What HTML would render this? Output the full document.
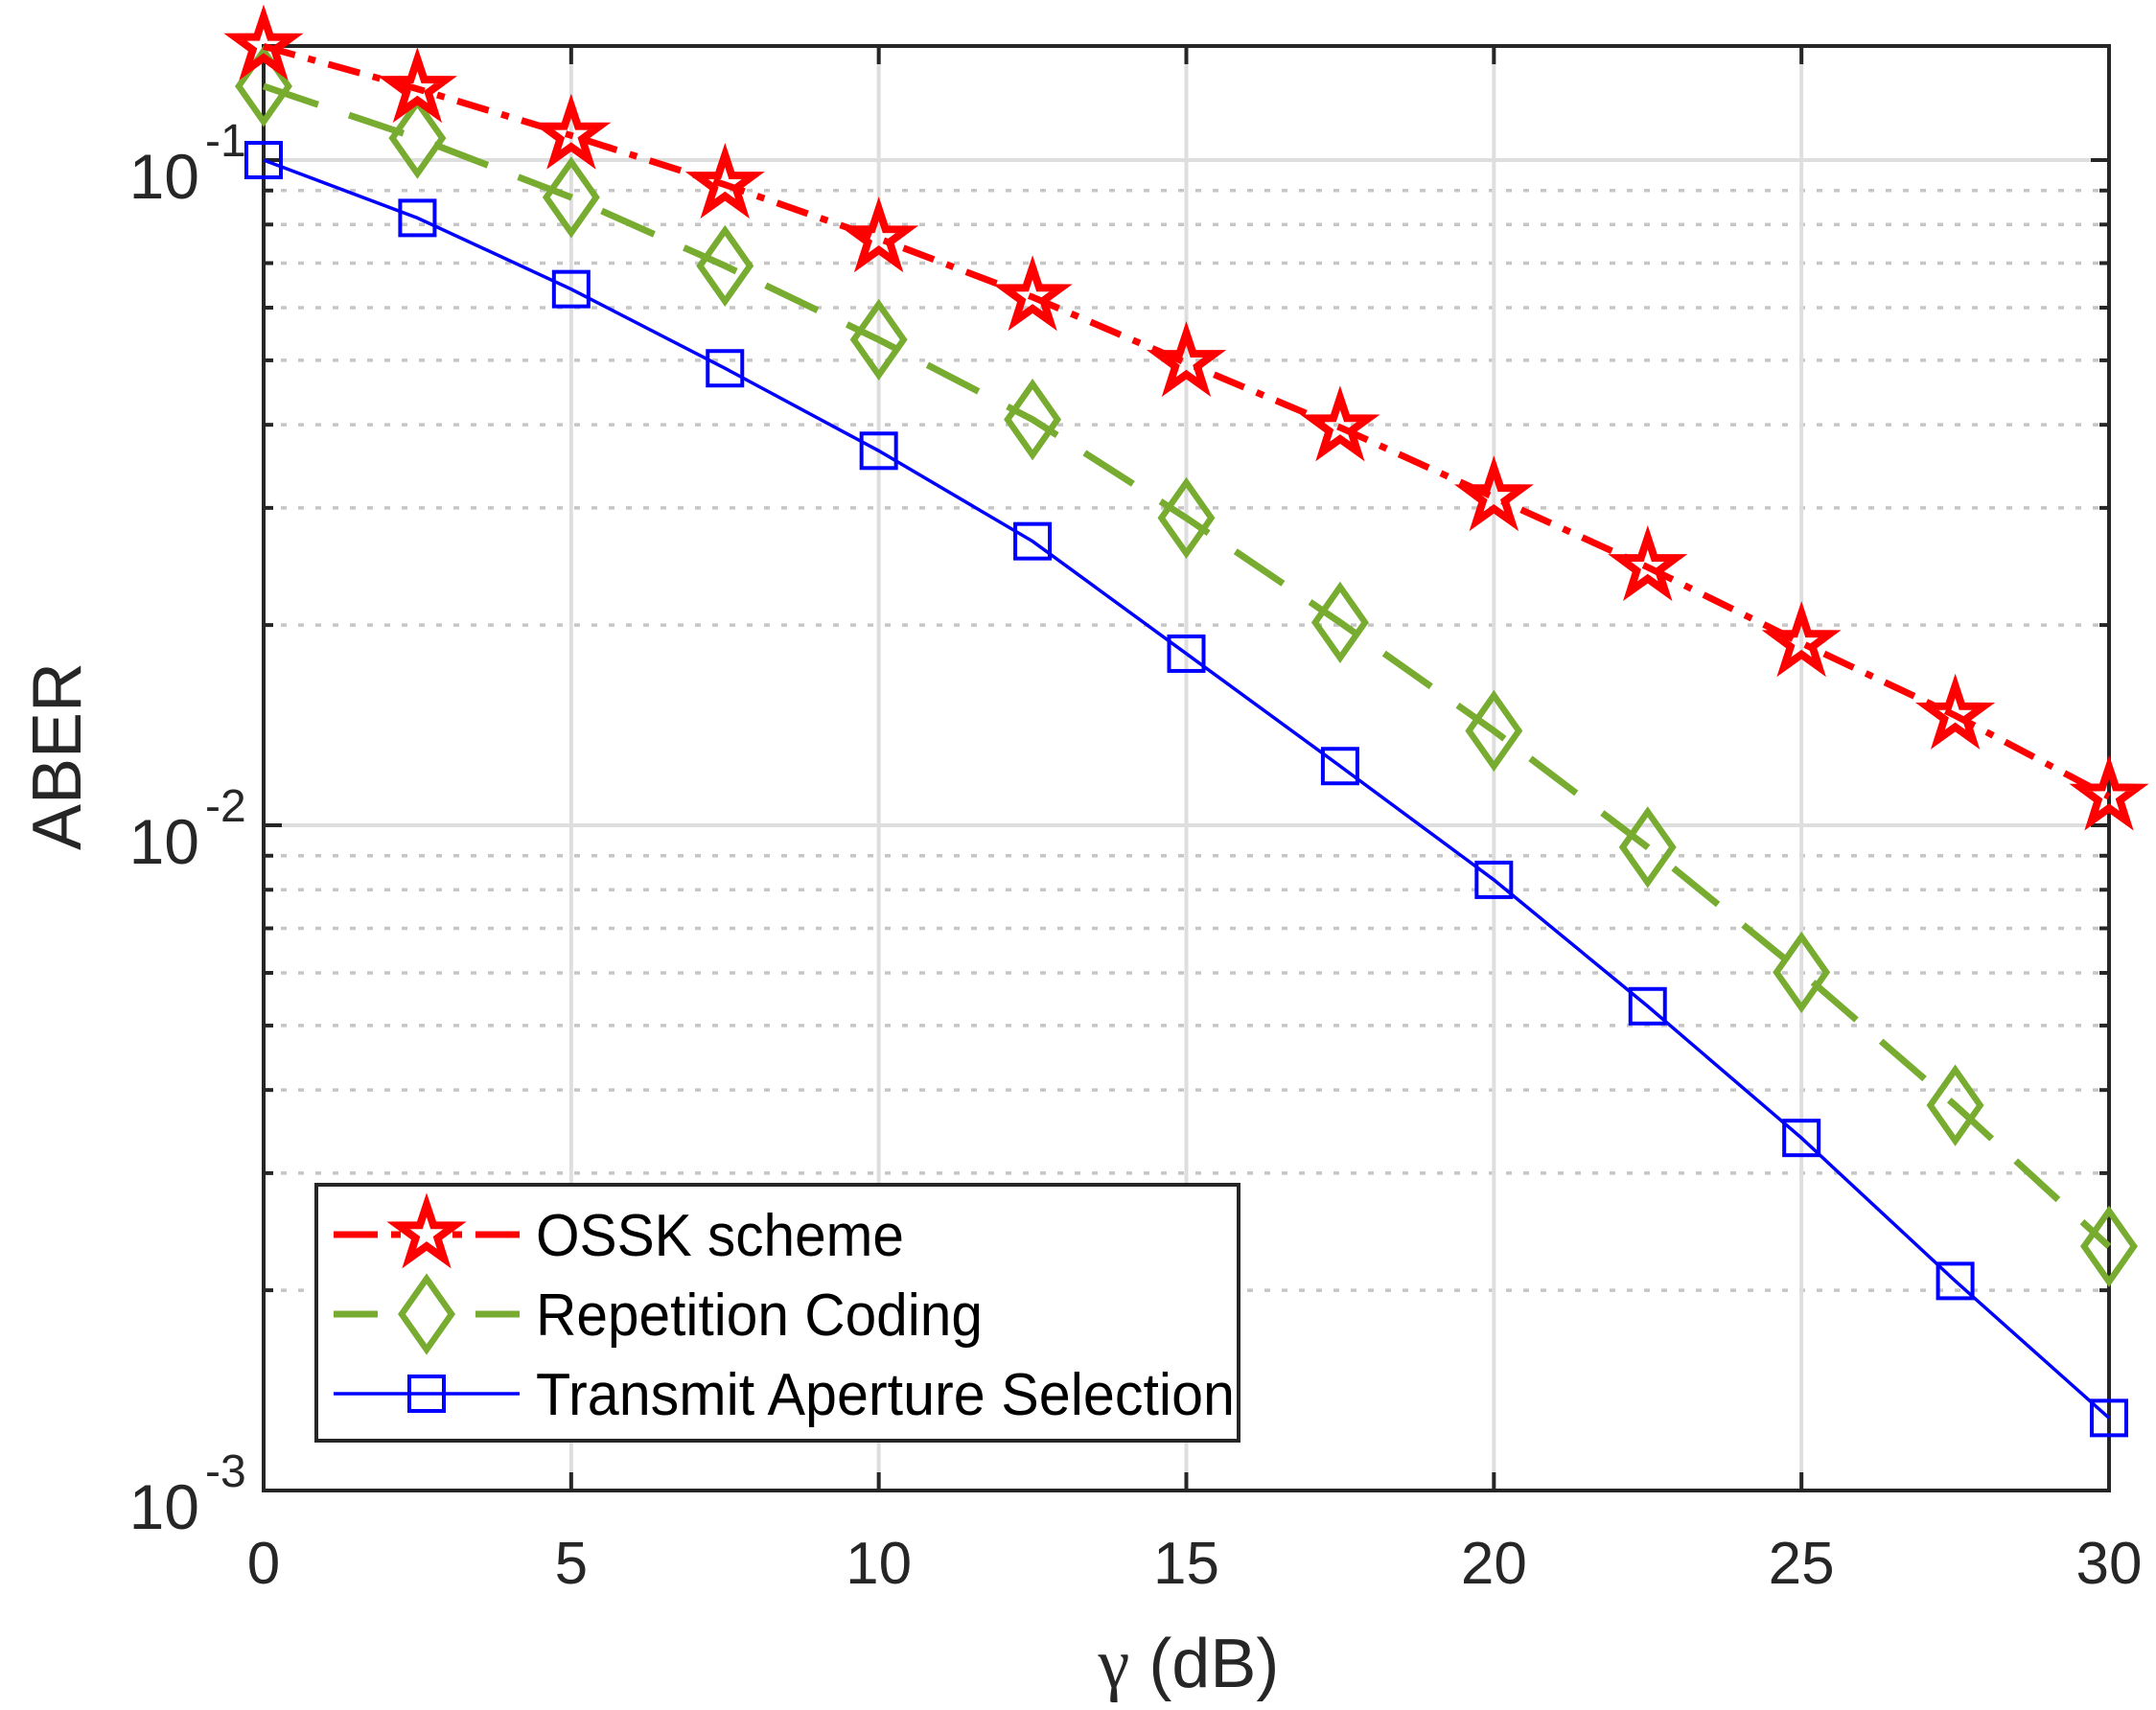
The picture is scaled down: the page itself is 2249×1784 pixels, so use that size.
<!DOCTYPE html>
<html><head><meta charset="utf-8"><style>html,body{margin:0;padding:0;background:#fff}svg{display:block}</style></head>
<body>
<svg id="s" xmlns="http://www.w3.org/2000/svg" width="2249" height="1784" viewBox="0 0 2249 1784" font-family="Liberation Sans, sans-serif"></svg>
<script>
const S=document.getElementById('s');
const L=275,R=2200,T=48,B=1555,D=694,Y1=167;
const X=v=>L+(R-L)*v/30;
const Ye=e=>Y1+(-1-e)*D;
let h='';
for(let d=-3;d<=-1;d++){for(let m=2;m<=9;m++){const e=d+Math.log10(m);const y=Ye(e);if(y<T)continue;
h+=`<line x1="${L}" x2="${R}" y1="${y}" y2="${y}" stroke="#c6c6c6" stroke-width="3.5" stroke-dasharray="6,12"/>`;}}
for(let v=5;v<30;v+=5)h+=`<line x1="${X(v)}" x2="${X(v)}" y1="${T}" y2="${B}" stroke="#dedede" stroke-width="4"/>`;
for(const e of[-1,-2])h+=`<line x1="${L}" x2="${R}" y1="${Ye(e)}" y2="${Ye(e)}" stroke="#dedede" stroke-width="4"/>`;
for(let v=0;v<=30;v+=5){const x=X(v);h+=`<line x1="${x}" x2="${x}" y1="${B}" y2="${B-19}" stroke="#262626" stroke-width="4"/><line x1="${x}" x2="${x}" y1="${T}" y2="${T+19}" stroke="#262626" stroke-width="4"/>`;
h+=`<text x="${x}" y="1652" font-size="62" text-anchor="middle" fill="#262626">${v}</text>`;}
for(let d=-3;d<=-1;d++){for(let m=1;m<=9;m++){const y=Ye(d+Math.log10(m));if(y<T)continue;const len=m==1?19:10;
h+=`<line x1="${L}" x2="${L+len}" y1="${y}" y2="${y}" stroke="#262626" stroke-width="4"/><line x1="${R}" x2="${R-len}" y1="${y}" y2="${y}" stroke="#262626" stroke-width="4"/>`;}
const y=Ye(d);h+=`<text x="208" y="${y+40}" font-size="66" text-anchor="end" fill="#262626">10</text><text x="214" y="${y-4}" font-size="48" fill="#262626">-${-d}</text>`;}
h+=`<rect x="${L}" y="${T}" width="${R-L}" height="${B-T}" fill="none" stroke="#262626" stroke-width="4"/>`;
h+=`<text x="0" y="0" font-size="72" fill="#262626" text-anchor="middle" transform="translate(84,789) rotate(-90)">ABER</text>`;
h+=`<text x="1240" y="1760" font-size="72" fill="#262626" text-anchor="middle"><tspan font-family="Liberation Serif, serif" font-size="74">γ</tspan> (dB)</text>`;
const xs=[0,2.5,5,7.5,10,12.5,15,17.5,20,22.5,25,27.5,30];
const os=[-0.829,-0.893,-0.963,-1.037,-1.118,-1.206,-1.305,-1.402,-1.507,-1.612,-1.726,-1.835,-1.957];
const rc=[-0.889,-0.967,-1.056,-1.159,-1.270,-1.390,-1.538,-1.695,-1.858,-2.033,-2.221,-2.421,-2.633];
const ta=[-1,-1.087,-1.194,-1.313,-1.437,-1.573,-1.742,-1.911,-2.082,-2.272,-2.470,-2.685,-2.891];
const pts=a=>a.map((e,i)=>[X(xs[i]),Ye(e)]);
const pl=(p,c,w,da)=>`<polyline points="${p.map(q=>q.join(',')).join(' ')}" fill="none" stroke="${c}" stroke-width="${w}" ${da?`stroke-dasharray="${da}"`:''}/>`;
function star(x,y,c){let r=31,ri=12,s='';for(let i=0;i<10;i++){const a=-Math.PI/2+i*Math.PI/5;const rr=i%2?ri:r;s+=(x+rr*Math.cos(a)).toFixed(1)+','+(y+rr*Math.sin(a)).toFixed(1)+' ';}
return `<polygon points="${s}" fill="none" stroke="${c}" stroke-width="8"/>`;}
const dia=(x,y,c)=>`<polygon points="${x},${y-37} ${x+26},${y} ${x},${y+37} ${x-26},${y}" fill="none" stroke="${c}" stroke-width="6.5"/>`;
const sq=(x,y,c)=>`<rect x="${x-18}" y="${y-18}" width="36" height="36" fill="none" stroke="${c}" stroke-width="4"/>`;
const RED='#ff0000',GRN='#77ac30',BLU='#0000ff';
h+=pl(pts(ta),BLU,3.5);pts(ta).forEach(p=>h+=sq(p[0],p[1],BLU));
h+=pl(pts(rc),GRN,7,'60,34');pts(rc).forEach(p=>h+=dia(p[0],p[1],GRN));
h+=pl(pts(os),RED,7,'34,14,8,14');pts(os).forEach(p=>h+=star(p[0],p[1],RED));
h+=`<rect x="330" y="1236" width="962" height="267" fill="#fff" stroke="#262626" stroke-width="4"/>`;
const seg=(a,b,y,c,w)=>`<line x1="${a}" x2="${b}" y1="${y}" y2="${y}" stroke="${c}" stroke-width="${w}"/>`;
h+=seg(348,394,1288,RED,7)+seg(408,418,1288,RED,7)+seg(472,482,1288,RED,7)+seg(496,542,1288,RED,7)+star(445,1288,RED);
h+=seg(348,394,1371,GRN,7)+seg(496,542,1371,GRN,7)+dia(445,1371,GRN);
h+=seg(348,542,1454,BLU,3.5)+sq(445,1454,BLU);
const rows=[[1288,'OSSK scheme',384],[1371,'Repetition Coding',466],[1454,'Transmit Aperture Selection',729]];
rows.forEach(r=>h+=`<text x="559" y="${r[0]+22}" font-size="62" fill="#000" textLength="${r[2]}" lengthAdjust="spacingAndGlyphs">${r[1]}</text>`);
S.innerHTML=h;
</script>
</body></html>
